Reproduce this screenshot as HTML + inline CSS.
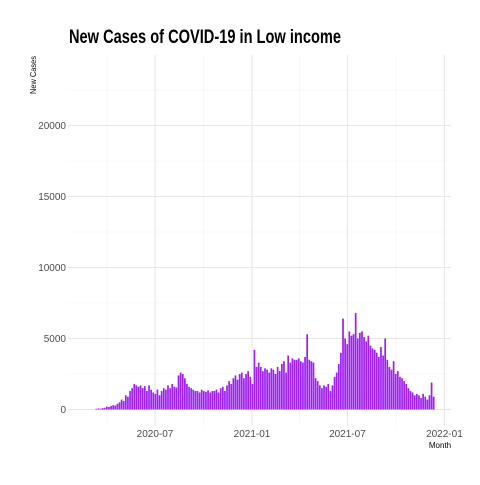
<!DOCTYPE html>
<html><head><meta charset="utf-8"><style>
body{margin:0;background:#fff;}
svg text{font-family:"Liberation Sans Narrow","Liberation Sans",sans-serif;}
</style></head><body>
<svg width="480" height="480">
<g id="grid"></g>
<g id="bars"></g>
<g id="axes"></g>
<text x="69" y="43" font-size="19" font-weight="bold" fill="#000" textLength="272" lengthAdjust="spacingAndGlyphs">New Cases of COVID-19 in Low income</text>
<text transform="translate(36,94) rotate(-90)" font-size="8" fill="#000" textLength="38" lengthAdjust="spacingAndGlyphs">New Cases</text>
<text x="440" y="448" font-size="8" fill="#000" text-anchor="middle">Month</text>
</svg>
<script>
const startDate = "2020-03-10";
const stepDays = 4;
const cases = [50,80,60,100,120,200,180,250,300,280,400,500,700,600,1000,900,1300,1500,1800,1700,
1600,1700,1500,1650,1300,1700,1400,1200,1100,1400,1000,1300,1500,1400,1700,1500,1800,1600,1550,
2400,2600,2500,2200,1800,1600,1500,1400,1300,1300,1200,1400,1300,1250,1350,1200,1300,
1300,1400,1200,1500,1600,1300,1700,2000,1800,2200,2400,2100,2500,2600,2200,2500,2700,2300,
1800,4200,3000,3300,3000,2700,2900,2800,2600,2900,2800,2500,3000,2700,3200,3400,2600,
3800,3300,3600,3500,3500,3600,3400,3300,3700,5300,3500,3400,3300,2200,2000,1700,
1500,1700,1600,1800,1300,1700,2300,2600,3200,4000,6400,5000,4600,5500,5200,5300,6800,5000,
5400,5500,5100,4800,5200,4500,4300,4200,4000,3700,4400,3800,5000,3500,3000,2800,3400,2500,
2700,2300,2200,2000,1800,1500,1300,1200,1000,1100,1000,800,1100,900,700,1000,1900,900];
const yTicks = [0,5000,10000,15000,20000];
const yMinor = [2500,7500,12500,17500,22500];
const xTicks = ["2020-07","2021-01","2021-07","2022-01"];
const xMinor = ["2020-04","2020-10","2021-04","2021-10"];

const NS="http://www.w3.org/2000/svg";
const ref = Date.UTC(2021,0,1), pxPerDay = 97/184;
function dayOf(s){const p=s.split("-").map(Number);return (Date.UTC(p[0],p[1]-1,p[2]||1)-ref)/864e5;}
function xs(d){return 252+d*pxPerDay;}
function ys(v){return 409.5-v*71/5000;}
const L=68,R=451,T=55,B=426;
function el(t,a,parent){const e=document.createElementNS(NS,t);for(const k in a)e.setAttribute(k,a[k]);document.getElementById(parent).appendChild(e);return e;}
yMinor.forEach(v=>{const e=el("line",{x1:L,x2:R,y1:ys(v),y2:ys(v),stroke:"#f2f2f2","stroke-width":0.6},"grid");

});
xMinor.forEach(m=>{const x=xs(dayOf(m));const e=el("line",{x1:x,x2:x,y1:T,y2:B,stroke:"#f2f2f2","stroke-width":0.6},"grid");

});
yTicks.forEach(v=>{const e=el("line",{x1:L,x2:R,y1:ys(v),y2:ys(v),stroke:"#e6e6e6","stroke-width":1},"grid");


const t=el("text",{x:66,y:ys(v)+3.5,"font-size":10,fill:"#4d4d4d","text-anchor":"end"},"axes");t.textContent=v;

});
xTicks.forEach(m=>{const x=xs(dayOf(m));const e=el("line",{x1:x,x2:x,y1:T,y2:B,stroke:"#e6e6e6","stroke-width":1},"grid");


const t=el("text",{x:x,y:437,"font-size":10,fill:"#4d4d4d","text-anchor":"middle"},"axes");t.textContent=m;

});
const d0=dayOf(startDate);
cases.forEach((v,i)=>{const x=xs(d0+i*stepDays);const y=ys(v);
const b=el("rect",{x:x,y:y,width:stepDays*pxPerDay*0.82,height:409.5-y,fill:"#a020f0"},"bars");

});
</script>
</body></html>
